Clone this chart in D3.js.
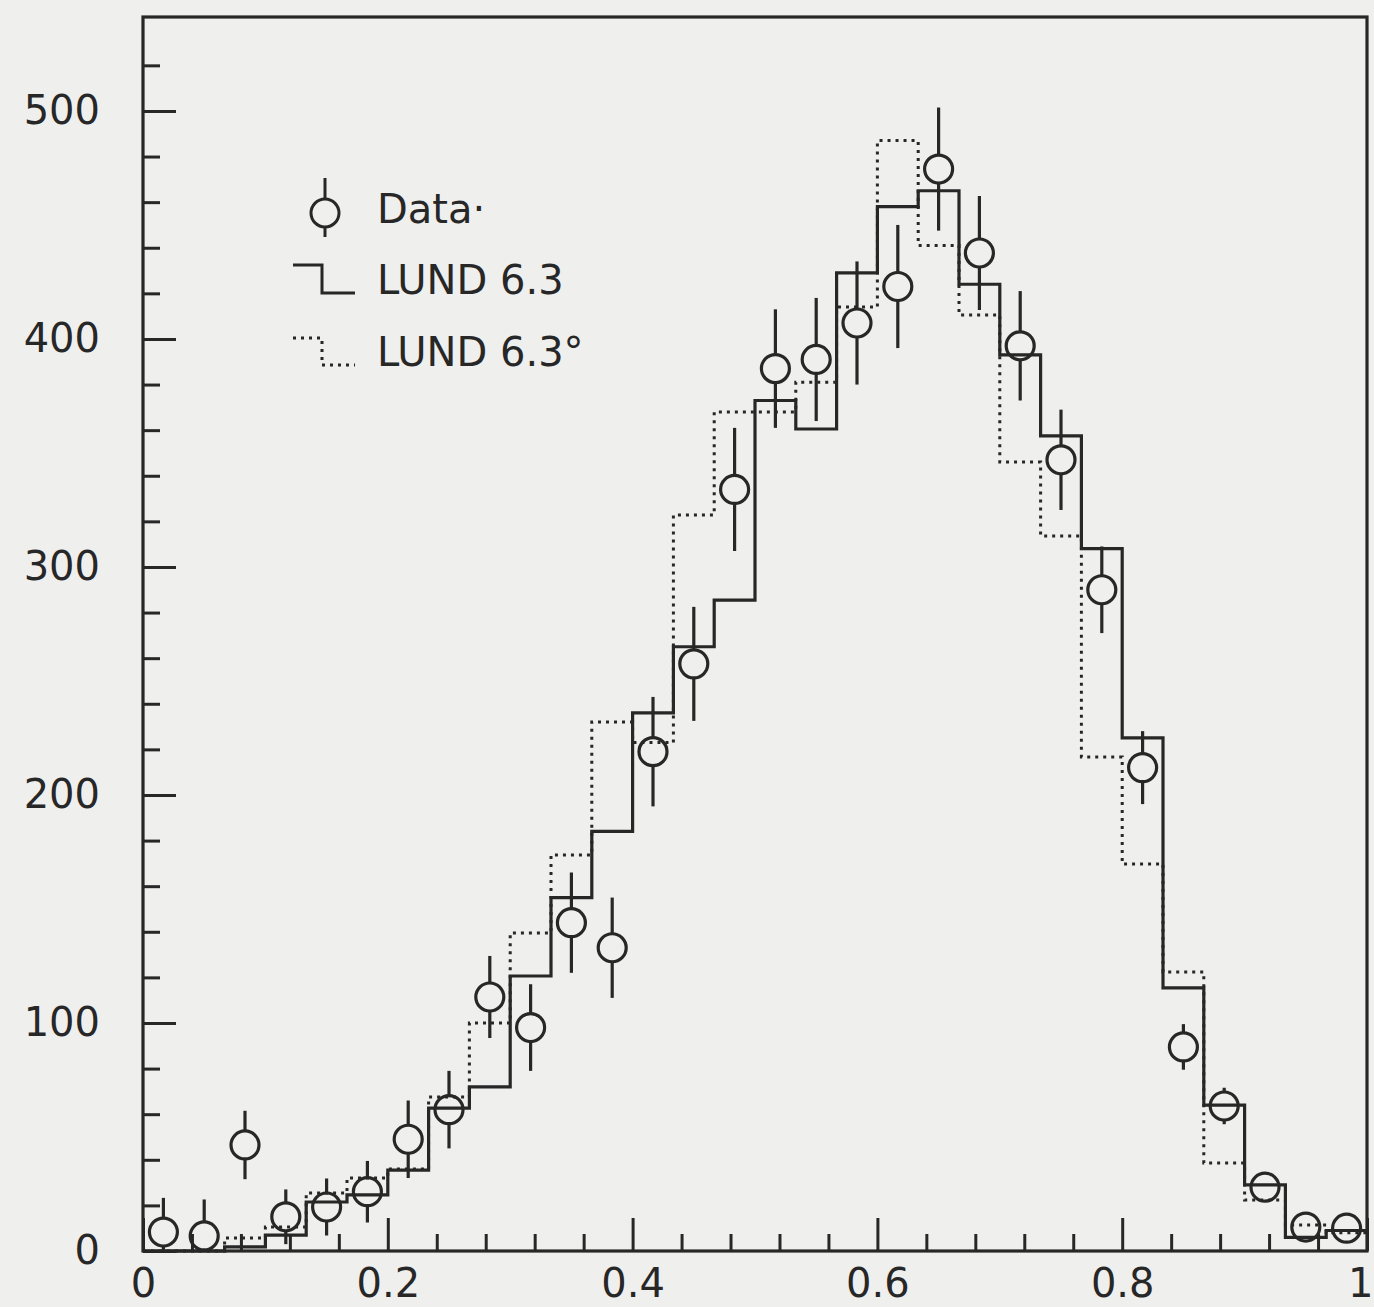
<!DOCTYPE html>
<html><head><meta charset="utf-8">
<script src="https://cdn.jsdelivr.net/npm/d3@7"></script>
<style>html,body{margin:0;padding:0;background:#efefed;} svg{display:block}</style>
</head><body><svg id="c" width="1374" height="1307"></svg>
<script>
// ---- data ----
const nBins = 30;
const binLo = d3.range(nBins).map(i => i / nBins);
const dataVals = [8.3, 6.6, 46.5, 15, 19.3, 26, 49, 62, 111.4, 98, 144, 133, 219, 257.5, 334, 387, 391, 407, 423, 474.5, 437.7, 397, 347, 290, 212, 89.5, 63.6, 28, 10.5, 10];
const dataErr  = [15, 16, 15, 12, 12.5, 13.5, 17, 17, 18, 19, 22, 22, 24, 25, 27, 26, 27, 27, 27, 27, 25, 24, 22, 19, 16, 10, 8, 5, 3, 3];
const lund63   = [0, 0, 1.8, 7, 21.5, 24.6, 35.5, 62.7, 72, 120.6, 155, 184, 236, 265, 285.5, 373, 360.5, 429, 458, 465, 424, 393, 357.5, 308, 225, 115.4, 64, 29, 6, 9];
const lund63p  = [0, 0, 5.7, 10.5, 25.4, 32, 36, 67.5, 100, 139.5, 173.7, 232, 223, 322.8, 368, 368, 381, 414, 487, 441, 410.5, 346, 313.6, 216.7, 169.7, 122.4, 38.6, 22.4, 11.4, 8];
const xMajor = [0, 0.2, 0.4, 0.6, 0.8, 1];
const xMinor = [0.04,0.08,0.12,0.16,0.24,0.28,0.32,0.36,0.44,0.48,0.52,0.56,0.64,0.68,0.72,0.76,0.84,0.88,0.92,0.96];
const yMajor = [0, 100, 200, 300, 400, 500];
const yMinor = [20,40,60,80,120,140,160,180,220,240,260,280,320,340,360,380,420,440,460,480,520];
const yTop = 541.2;
const legendLabels = ["Data\u00b7", "LUND 6.3", "LUND 6.3\u00b0"];

// ---- layout ----
const ink = "#272727";
const svg = d3.select("#c");
const L = 143, R = 1367, T = 17, B = 1251;
const x = d3.scaleLinear().domain([0, 1]).range([L, R]);
const y = d3.scaleLinear().domain([0, yTop]).range([B, T]);
const font = "'DejaVu Sans', sans-serif";

svg.append("rect").attr("width", 1374).attr("height", 1307).attr("fill", "#efefed");

// axes
const gx = svg.append("g").attr("transform", `translate(0,${B})`)
  .call(d3.axisBottom(x).tickValues(xMajor).tickSize(-33).tickPadding(18)
    .tickFormat(d => d === 0 ? "0" : d === 1 ? "1" : d3.format(".1f")(d)));
svg.append("g").attr("transform", `translate(0,${B})`)
  .call(d3.axisBottom(x).tickValues(xMinor).tickSize(-17).tickFormat(""));
const gy = svg.append("g").attr("transform", `translate(${L},0)`)
  .call(d3.axisLeft(y).tickValues(yMajor).tickSize(-33).tickPadding(43));
svg.append("g").attr("transform", `translate(${L},0)`)
  .call(d3.axisLeft(y).tickValues(yMinor).tickSize(-17).tickFormat(""));
svg.selectAll(".domain").remove();
svg.selectAll(".tick line").attr("stroke", ink).attr("stroke-width", 3);
svg.selectAll(".tick text").attr("fill", ink).attr("font-family", font).attr("font-size", 40);
// keep the last x label inside the picture
gx.selectAll(".tick text").filter(d => d === 1).attr("text-anchor", "end").attr("dx", 6);

// frame
svg.append("rect").attr("x", L).attr("y", T).attr("width", R - L).attr("height", B - T)
  .attr("fill", "none").attr("stroke", ink).attr("stroke-width", 3.2);

// histograms
const stepLine = d3.line().x(d => x(d[0])).y(d => y(d[1])).curve(d3.curveStepAfter);
function histPts(vals) {
  return binLo.map((b, i) => [b, vals[i]]).concat([[1, vals[vals.length - 1]]]);
}
svg.append("path").attr("d", stepLine(histPts(lund63p)))
  .attr("fill", "none").attr("stroke", ink).attr("stroke-width", 3)
  .attr("stroke-dasharray", "3,5");
svg.append("path").attr("d", stepLine(histPts(lund63)))
  .attr("fill", "none").attr("stroke", ink).attr("stroke-width", 3.2);

// data points
const r = 14;
const pts = svg.append("g");
dataVals.forEach((v, i) => {
  const cx = x(binLo[i] + 0.5 / nBins), cy = y(v);
  const yHi = y(v + dataErr[i]), yLo = y(Math.max(0, v - dataErr[i]));
  if (cy - r > yHi) pts.append("line").attr("x1", cx).attr("x2", cx).attr("y1", yHi).attr("y2", cy - r)
    .attr("stroke", ink).attr("stroke-width", 3.2);
  if (yLo > cy + r) pts.append("line").attr("x1", cx).attr("x2", cx).attr("y1", cy + r).attr("y2", yLo)
    .attr("stroke", ink).attr("stroke-width", 3.2);
  pts.append("circle").attr("cx", cx).attr("cy", cy).attr("r", r)
    .attr("fill", "none").attr("stroke", ink).attr("stroke-width", 3.2);
});

// legend
const lg = svg.append("g");
lg.append("line").attr("x1", 325).attr("x2", 325).attr("y1", 178).attr("y2", 199).attr("stroke", ink).attr("stroke-width", 3);
lg.append("line").attr("x1", 325).attr("x2", 325).attr("y1", 227).attr("y2", 237).attr("stroke", ink).attr("stroke-width", 3);
lg.append("circle").attr("cx", 325).attr("cy", 213).attr("r", r).attr("fill", "none").attr("stroke", ink).attr("stroke-width", 3);
lg.append("path").attr("d", "M293,265H322V293H355").attr("fill", "none").attr("stroke", ink).attr("stroke-width", 3);
lg.append("path").attr("d", "M293,338H322V365H355").attr("fill", "none").attr("stroke", ink).attr("stroke-width", 3).attr("stroke-dasharray", "3,5");
[223, 294, 366].forEach((by, i) => {
  lg.append("text").attr("x", 377).attr("y", by).attr("font-family", font).attr("font-size", 40)
    .attr("fill", ink).text(legendLabels[i]);
});
</script></body></html>
